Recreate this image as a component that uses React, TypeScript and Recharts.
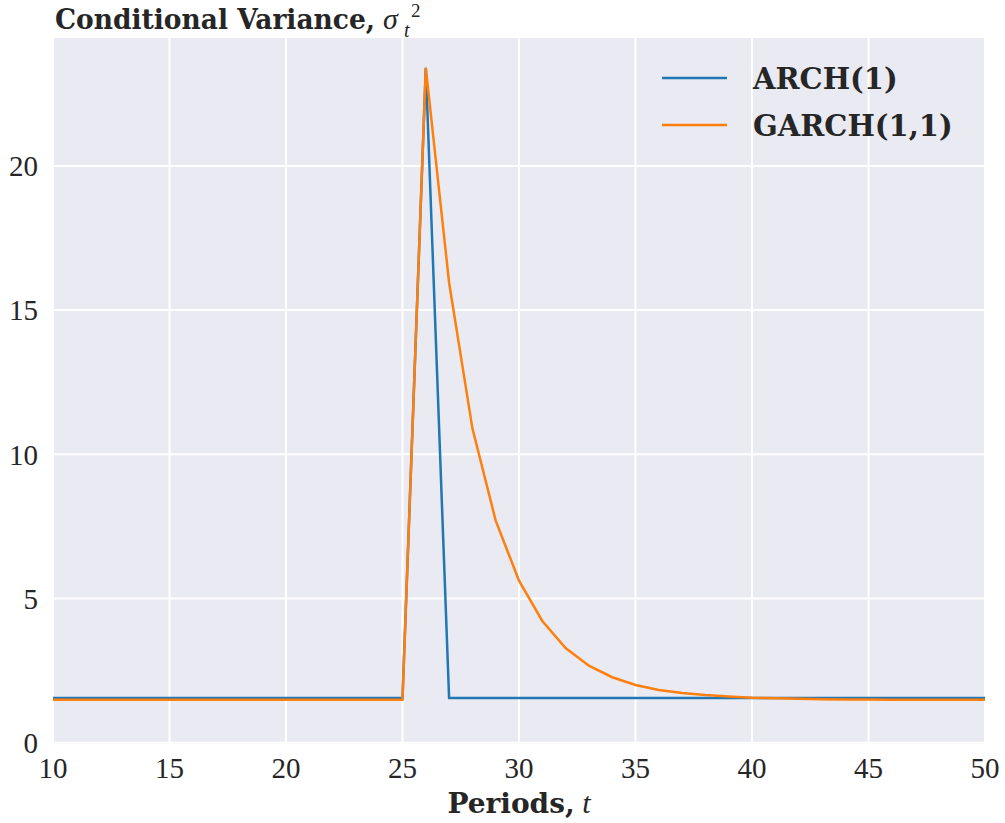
import React from 'react';
import { LineChart, Line, XAxis, YAxis, CartesianGrid, Legend } from 'recharts';

const periods = [10, 11, 12, 13, 14, 15, 16, 17, 18, 19, 20, 21, 22, 23, 24, 25, 26, 27, 28, 29, 30, 31, 32, 33, 34, 35, 36, 37, 38, 39, 40, 41, 42, 43, 44, 45, 46, 47, 48, 49, 50];

const archValues = [1.55, 1.55, 1.55, 1.55, 1.55, 1.55, 1.55, 1.55, 1.55, 1.55, 1.55, 1.55, 1.55, 1.55, 1.55, 1.55, 23.4, 1.55, 1.55, 1.55, 1.55, 1.55, 1.55, 1.55, 1.55, 1.55, 1.55, 1.55, 1.55, 1.55, 1.55, 1.55, 1.55, 1.55, 1.55, 1.55, 1.55, 1.55, 1.55, 1.55, 1.55];

const garchValues = [1.49, 1.49, 1.49, 1.49, 1.49, 1.49, 1.49, 1.49, 1.49, 1.49, 1.49, 1.49, 1.49, 1.49, 1.49, 1.49, 23.4, 15.95, 10.9, 7.7, 5.62, 4.22, 3.28, 2.67, 2.27, 2.0, 1.83, 1.72, 1.65, 1.6, 1.56, 1.54, 1.52, 1.51, 1.5, 1.5, 1.49, 1.49, 1.49, 1.49, 1.49];

const xTicks = [10, 15, 20, 25, 30, 35, 40, 45, 50];
const yTicks = [0, 5, 10, 15, 20];

const seriesNames = ['ARCH(1)', 'GARCH(1,1)'];
const seriesColors = ['#1f77b4', '#ff7f0e'];

const rows = periods.map((t, i) => ({ t, arch: archValues[i], garch: garchValues[i] }));

const TEXT = '#262626';
const BOLD_FONT = '"DejaVu Serif", serif';
const TICK_FONT = '"Liberation Serif", serif';

const LegendContent = () => (
  <svg width={340} height={100} style={{ display: 'block', overflow: 'visible' }}>
    {seriesNames.map((name, i) => (
      <g key={name}>
        <line x1={12} x2={77} y1={23 + i * 47} y2={23 + i * 47} stroke={seriesColors[i]} strokeWidth={2.5} />
        <text x={103} y={34 + i * 47} fontFamily={BOLD_FONT} fontWeight="bold" fontSize={29} fill={TEXT}>
          {name}
        </text>
      </g>
    ))}
  </svg>
);

export default function App() {
  return (
    <div style={{ position: 'absolute', left: 0, top: 0, width: 1005, height: 823, background: '#ffffff' }}>
      <LineChart width={1005} height={823} data={rows} margin={{ top: 37, right: 20, bottom: 0, left: 0 }}>
        <CartesianGrid fill="#EAEAF2" stroke="#FFFFFF" strokeWidth={2} />
        <XAxis
          dataKey="t"
          type="number"
          domain={[10, 50]}
          ticks={xTicks}
          interval={0}
          allowDataOverflow
          axisLine={false}
          tickLine={false}
          tickSize={0}
          tickMargin={12}
          height={78}
          tick={{ fontFamily: TICK_FONT, fontSize: 29, fill: TEXT }}
        />
        <YAxis
          type="number"
          domain={[-0.08, 24.47]}
          ticks={yTicks}
          interval={0}
          allowDataOverflow
          axisLine={false}
          tickLine={false}
          tickSize={0}
          tickMargin={15}
          width={53}
          tick={{ fontFamily: TICK_FONT, fontSize: 29, fill: TEXT }}
        />
        <Legend
          layout="vertical"
          align="center"
          verticalAlign="middle"
          content={LegendContent}
          wrapperStyle={{ left: 650, top: 55, width: 340, height: 100 }}
        />
        <Line type="linear" dataKey="arch" name={seriesNames[0]} stroke={seriesColors[0]} strokeWidth={2.5} dot={false} activeDot={false} isAnimationActive={false} />
        <Line type="linear" dataKey="garch" name={seriesNames[1]} stroke={seriesColors[1]} strokeWidth={2.5} dot={false} activeDot={false} isAnimationActive={false} />
      </LineChart>
      <svg width={1005} height={823} style={{ position: 'absolute', left: 0, top: 0, pointerEvents: 'none' }}>
        <text x={55} y={29} fontFamily={BOLD_FONT} fontWeight="bold" fontSize={27} fill={TEXT} textLength={320} lengthAdjust="spacingAndGlyphs">
          Conditional Variance,
        </text>
        <text x={383} y={29} fontFamily={TICK_FONT} fontStyle="italic" fontSize={30} fill={TEXT}>σ</text>
        <text x={404} y={37} fontFamily={TICK_FONT} fontStyle="italic" fontSize={20} fill={TEXT}>t</text>
        <text x={411} y={17} fontFamily={TICK_FONT} fontSize={19} fill={TEXT}>2</text>
        <text x={519} y={813} textAnchor="middle" fontFamily={BOLD_FONT} fill={TEXT}>
          <tspan fontWeight="bold" fontSize={28}>Periods,</tspan>
          <tspan fontFamily={TICK_FONT} fontStyle="italic" fontSize={30}> t</tspan>
        </text>
      </svg>
    </div>
  );
}
